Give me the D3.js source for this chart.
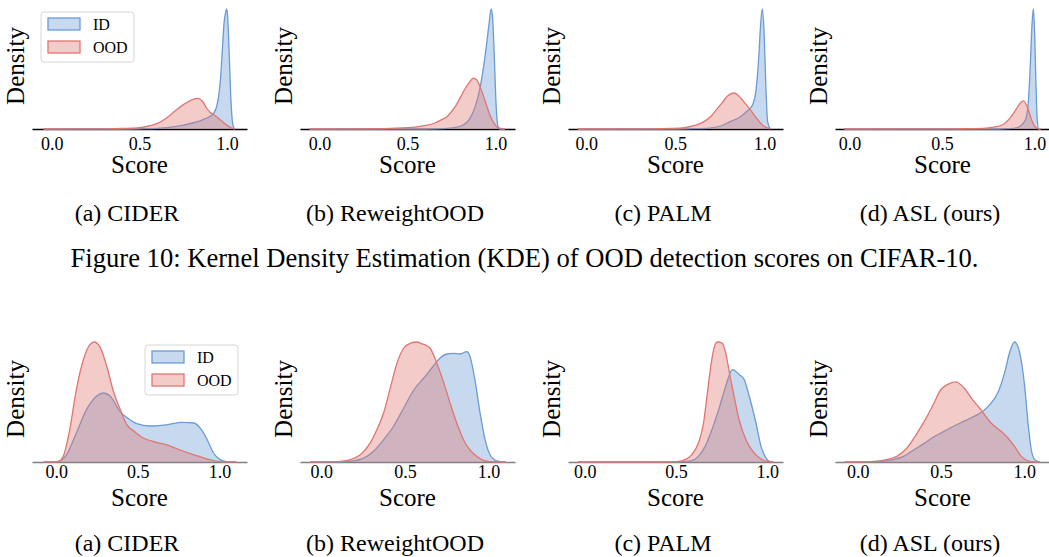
<!DOCTYPE html>
<html>
<head>
<meta charset="utf-8">
<script src="https://cdn.jsdelivr.net/npm/d3@7"></script>
</head>
<body style="margin:0">
<script>
const svgWidth = 1049;
const svgHeight = 557;
const serif = "'Liberation Serif'";

// subfigure names and figure caption
const methods = ["(a) CIDER", "(b) ReweightOOD", "(c) PALM", "(d) ASL (ours)"];
const figCaption = "Figure 10: Kernel Density Estimation (KDE) of OOD detection scores on CIFAR-10.";
const legendLabels = ["ID", "OOD"];
const tickValues = [0, 0.5, 1.0];

// x limits of every panel
const xlimTop = [[-0.116, 1.111], [-0.114, 1.108], [-0.105, 1.101], [-0.081, 1.081]];
const xlimBottom = [[-0.151, 1.165], [-0.13, 1.155], [-0.094, 1.083], [-0.139, 1.152]];

// KDE curves, [score, density] (density relative to tallest curve of the panel)
// top row (CIFAR-10)
const topCiderID = [[-0.05,0],[0.4,0],[0.5,0.002],[0.6,0.006],[0.7,0.02],[0.75,0.033],[0.8,0.05],[0.85,0.072],[0.88,0.09],[0.9,0.105],[0.92,0.13],[0.94,0.2],[0.95,0.28],[0.96,0.42],[0.97,0.65],[0.98,0.88],[0.99,0.98],[0.995,1.0],[1.0,0.95],[1.01,0.6],[1.02,0.22],[1.03,0.04],[1.04,0]];
const topCiderOOD = [[-0.05,0],[0.3,0.001],[0.4,0.004],[0.45,0.007],[0.5,0.012],[0.55,0.025],[0.6,0.047],[0.65,0.09],[0.7,0.15],[0.75,0.205],[0.8,0.245],[0.83,0.256],[0.86,0.225],[0.88,0.175],[0.9,0.14],[0.93,0.11],[0.96,0.075],[0.98,0.05],[1.0,0.028],[1.02,0.01],[1.04,0]];
const topReweightID = [[-0.06,0],[0.6,0],[0.7,0.003],[0.75,0.01],[0.8,0.025],[0.85,0.085],[0.88,0.18],[0.9,0.28],[0.92,0.43],[0.94,0.63],[0.96,0.87],[0.972,1.0],[0.98,0.94],[0.99,0.62],[1.0,0.22],[1.01,0.03],[1.02,0],[1.05,0]];
const topReweightOOD = [[-0.06,0],[0.2,0.001],[0.3,0.002],[0.4,0.005],[0.47,0.01],[0.55,0.018],[0.6,0.03],[0.65,0.048],[0.7,0.085],[0.72,0.1],[0.75,0.15],[0.77,0.19],[0.8,0.27],[0.83,0.35],[0.85,0.39],[0.87,0.423],[0.89,0.41],[0.91,0.35],[0.93,0.27],[0.95,0.18],[0.97,0.1],[0.99,0.045],[1.01,0.012],[1.05,0]];
const topPalmID = [[-0.05,0],[0.5,0],[0.6,0.003],[0.69,0.008],[0.75,0.025],[0.8,0.058],[0.86,0.1],[0.9,0.15],[0.93,0.2],[0.95,0.33],[0.965,0.6],[0.975,0.86],[0.985,1.0],[0.995,0.8],[1.005,0.35],[1.015,0.06],[1.03,0]];
const topPalmOOD = [[-0.05,0],[0.3,0.001],[0.42,0.003],[0.47,0.005],[0.54,0.01],[0.6,0.028],[0.65,0.055],[0.7,0.11],[0.73,0.165],[0.76,0.22],[0.79,0.275],[0.826,0.3],[0.85,0.28],[0.88,0.23],[0.92,0.155],[0.95,0.095],[0.99,0.028],[1.02,0.005],[1.03,0]];
const topAslID = [[-0.03,0],[0.8,0],[0.85,0.003],[0.9,0.01],[0.92,0.025],[0.94,0.055],[0.955,0.11],[0.965,0.25],[0.975,0.55],[0.983,0.85],[0.991,1.0],[0.998,0.8],[1.005,0.38],[1.012,0.08],[1.02,0],[1.03,0]];
const topAslOOD = [[-0.03,0],[0.5,0.001],[0.6,0.002],[0.72,0.005],[0.775,0.015],[0.83,0.04],[0.865,0.09],[0.9,0.17],[0.92,0.215],[0.937,0.234],[0.95,0.21],[0.964,0.16],[0.982,0.075],[1.0,0.02],[1.018,0.002],[1.03,0]];
// bottom row
const botCiderID = [[-0.08,0],[-0.02,0.001],[0.01,0.006],[0.06,0.06],[0.12,0.24],[0.18,0.43],[0.245,0.55],[0.286,0.575],[0.327,0.55],[0.388,0.42],[0.43,0.37],[0.49,0.32],[0.57,0.3],[0.67,0.31],[0.77,0.33],[0.84,0.325],[0.88,0.28],[0.92,0.19],[0.96,0.075],[1.0,0.02],[1.04,0.003],[1.1,0]];
const botCiderOOD = [[-0.08,0],[-0.01,0.001],[0.02,0.01],[0.04,0.047],[0.08,0.27],[0.12,0.6],[0.163,0.85],[0.204,0.98],[0.23,1.0],[0.265,0.96],[0.306,0.8],[0.347,0.59],[0.388,0.44],[0.43,0.31],[0.47,0.26],[0.53,0.2],[0.61,0.164],[0.67,0.144],[0.755,0.1],[0.84,0.06],[0.92,0.025],[0.98,0.005],[1.02,0.001],[1.1,0]];
const botReweightID = [[-0.07,0],[0.11,0.002],[0.19,0.01],[0.25,0.033],[0.31,0.09],[0.37,0.186],[0.43,0.3],[0.49,0.45],[0.55,0.6],[0.61,0.7],[0.667,0.8],[0.707,0.867],[0.747,0.9],[0.787,0.905],[0.827,0.9],[0.867,0.92],[0.886,0.88],[0.916,0.68],[0.946,0.41],[0.976,0.186],[1.006,0.06],[1.046,0.01],[1.1,0]];
const botReweightOOD = [[-0.07,0],[0.05,0.001],[0.09,0.003],[0.17,0.02],[0.23,0.06],[0.29,0.16],[0.33,0.27],[0.37,0.41],[0.41,0.62],[0.45,0.825],[0.49,0.95],[0.53,0.99],[0.568,1.0],[0.6,0.985],[0.627,0.97],[0.647,0.95],[0.687,0.825],[0.727,0.67],[0.767,0.49],[0.807,0.325],[0.847,0.186],[0.886,0.1],[0.926,0.047],[0.966,0.014],[1.006,0.003],[1.1,0]];
const botPalmID = [[-0.04,0],[0.45,0],[0.53,0.003],[0.583,0.012],[0.62,0.047],[0.657,0.13],[0.694,0.27],[0.731,0.436],[0.769,0.63],[0.806,0.77],[0.843,0.73],[0.87,0.69],[0.898,0.55],[0.935,0.325],[0.963,0.13],[0.99,0.033],[1.01,0.005],[1.03,0]];
const botPalmOOD = [[-0.04,0],[0.4,0],[0.47,0.002],[0.51,0.005],[0.546,0.02],[0.583,0.06],[0.62,0.158],[0.648,0.325],[0.667,0.55],[0.685,0.77],[0.704,0.94],[0.722,1.0],[0.75,0.99],[0.769,0.91],[0.796,0.69],[0.815,0.55],[0.843,0.35],[0.88,0.186],[0.917,0.09],[0.954,0.033],[0.99,0.007],[1.03,0]];
const botAslID = [[-0.08,0],[0.05,0.001],[0.131,0.005],[0.212,0.02],[0.273,0.047],[0.333,0.1],[0.394,0.153],[0.455,0.21],[0.515,0.255],[0.576,0.3],[0.636,0.34],[0.697,0.38],[0.747,0.42],[0.798,0.49],[0.838,0.575],[0.879,0.74],[0.909,0.91],[0.939,1.0],[0.97,0.91],[1.0,0.63],[1.02,0.325],[1.04,0.1],[1.06,0.02],[1.09,0]];
const botAslOOD = [[-0.08,0],[0.05,0.002],[0.091,0.005],[0.172,0.02],[0.232,0.047],[0.293,0.117],[0.354,0.24],[0.414,0.38],[0.455,0.49],[0.495,0.6],[0.535,0.645],[0.586,0.667],[0.636,0.617],[0.687,0.52],[0.737,0.436],[0.798,0.325],[0.859,0.255],[0.899,0.2],[0.939,0.13],[0.98,0.047],[1.02,0.01],[1.06,0.001],[1.09,0]];

const topID = [topCiderID, topReweightID, topPalmID, topAslID];
const topOOD = [topCiderOOD, topReweightOOD, topPalmOOD, topAslOOD];
const botID = [botCiderID, botReweightID, botPalmID, botAslID];
const botOOD = [botCiderOOD, botReweightOOD, botPalmOOD, botAslOOD];

// look
const colorID = "#6a9bd4";
const colorOOD = "#e07672";
const fillAlpha = 0.38;
const axW = 215;
const axH = 126;
const axLeft = [32, 300, 568, 835];

const svg = d3.select("body").append("svg")
              .attr("width", svgWidth)
              .attr("height", svgHeight);

// rows: baseline, colour of spine, tick label pad, legend corner
const rows = [
  {base: 129, spine: "#000", pad: 8, ids: topID, oods: topOOD, xlim: xlimTop, legend: "left", caption: 220.5},
  {base: 462, spine: "#808080", pad: 3, ids: botID, oods: botOOD, xlim: xlimBottom, legend: "right", caption: 551}
];

rows.forEach(function(row) {
  for (let i = 0; i < 4; i++) {
    drawPanel(row, i);
  }
});

addText(svg, svgWidth / 2, 267, 26.6, figCaption);

function addText(sel, x, y, size, str) {
  return sel.append("text")
            .attr("x", x)
            .attr("y", y)
            .style("font-family", serif)
            .style("font-size", size + "px")
            .attr("fill", "#000")
            .attr("text-anchor", "middle")
            .text(str);
}

function drawPanel(row, i) {
  let left = axLeft[i];
  let g = svg.append("g");
  let x = d3.scaleLinear().domain(row.xlim[i]).range([left, left + axW]);
  let ymax = d3.max(row.ids[i].concat(row.oods[i]), d => d[1]);
  let y = d3.scaleLinear().domain([0, ymax * 1.05]).range([row.base, row.base - axH]);

  let area = d3.area()
               .curve(d3.curveMonotoneX)
               .x(d => x(d[0]))
               .y0(y(0))
               .y1(d => y(Math.max(0, d[1])));
  let line = d3.line()
               .curve(d3.curveMonotoneX)
               .x(d => x(d[0]))
               .y(d => y(Math.max(0, d[1])));

  // spine (axis domain) first, curves on top; labels are plain texts at the scale positions
  let xAxis = d3.axisBottom(x)
                .tickValues(tickValues)
                .tickSize(0)
                .tickFormat("");
  let ax = g.append("g")
            .attr("transform", "translate(0," + row.base + ")")
            .call(xAxis);
  ax.select(".domain").attr("stroke", row.spine).attr("stroke-width", 1.3);
  tickValues.forEach(function(v) {
    addText(g, x(v), row.base + row.pad + 13, 18, d3.format(".1f")(v));
  });

  [[row.ids[i], colorID], [row.oods[i], colorOOD]].forEach(function(s) {
    g.append("path")
     .attr("d", area(s[0]))
     .attr("fill", s[1])
     .attr("fill-opacity", fillAlpha)
     .attr("stroke", "none");
    g.append("path")
     .attr("d", line(s[0]))
     .attr("fill", "none")
     .attr("stroke", s[1])
     .attr("stroke-width", 1.3);
  });

  addText(g, 0, 0, 25, "Density")
    .attr("transform", "translate(" + (left - 8.5) + "," + (row.base - 63) + ") rotate(-90)");
  addText(g, left + axW / 2, row.base + 44, 25, "Score");
  addText(g, left + 95, row.caption, 24, methods[i]);

  if (i == 0) drawLegend(row, left);
}

function drawLegend(row, left) {
  let bx = row.legend == "left" ? left + 9 : left + axW - 9 - 93;
  let by = row.base - axH + 9;
  let lg = svg.append("g").attr("transform", "translate(" + bx + "," + by + ")");
  lg.append("rect")
    .attr("width", 93)
    .attr("height", 50)
    .attr("rx", 3)
    .attr("fill", "#fff")
    .attr("fill-opacity", 0.8)
    .attr("stroke", "#d6d6d6")
    .attr("stroke-width", 1);
  [colorID, colorOOD].forEach(function(c, k) {
    lg.append("rect")
      .attr("x", 7)
      .attr("y", 6 + k * 23)
      .attr("width", 32)
      .attr("height", 12)
      .attr("fill", c)
      .attr("fill-opacity", fillAlpha)
      .attr("stroke", c)
      .attr("stroke-width", 1.3);
    addText(lg, 52, 17.5 + k * 23, 16, legendLabels[k])
      .attr("text-anchor", "start");
  });
}
</script>
</body>
</html>
